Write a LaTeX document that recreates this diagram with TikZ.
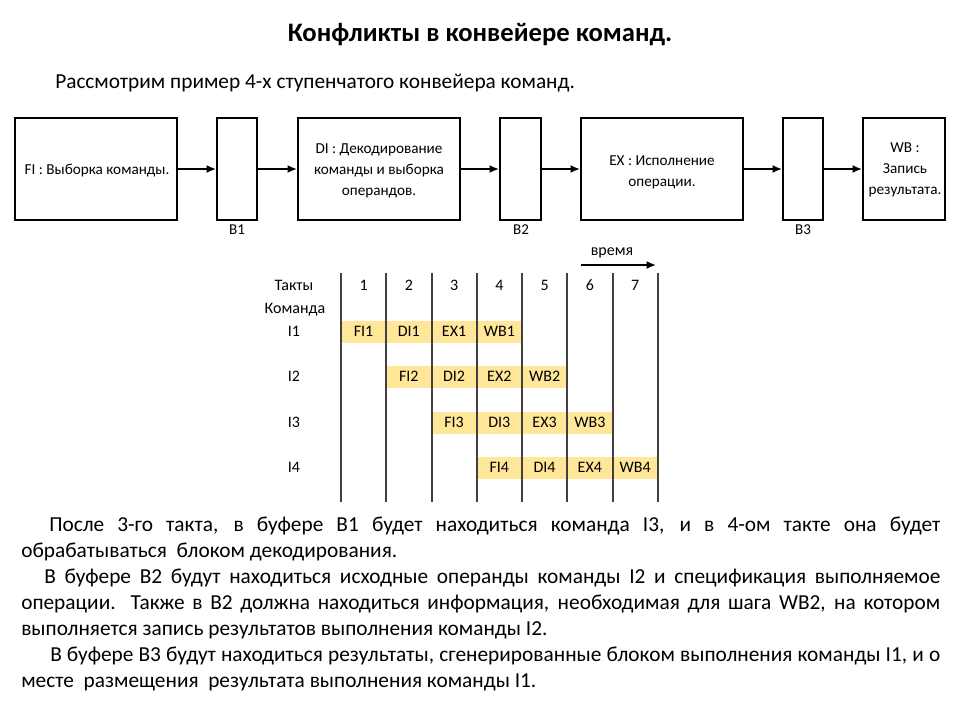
\documentclass[tikz,border=0pt]{standalone}
\usepackage{fontspec}
\setmainfont{Carlito}
\usetikzlibrary{arrows.meta}
\newdimen\pxu \pxu=0.75pt
\definecolor{cellyellow}{HTML}{FFE699}
\definecolor{gridgray}{HTML}{404040}
\tikzset{
  blk/.style={draw=black, line width=1.5pt, minimum height=102\pxu, inner sep=0pt},
  blktext/.style={inner sep=0pt, align=center, font=\fontsize{11.4}{15.8}\selectfont},
  buf/.style={draw=black, line width=1.5pt, minimum height=102\pxu, minimum width=40\pxu, inner sep=0pt},
  flow/.style={line width=1.5pt, -{Latex[length=7pt,width=6pt]}},
  tbl/.style={font=\fontsize{12}{14}\selectfont, inner sep=0pt, text height=8.5pt, text depth=2.5pt},
  cell/.style={fill=cellyellow, minimum width=45\pxu, minimum height=22\pxu, inner sep=0pt, text height=8.5pt, text depth=2.5pt, font=\fontsize{12}{14}\selectfont},
  vline/.style={draw=gridgray, line width=1pt},
  para/.style={anchor=base west, inner sep=0pt, font=\fontsize{16}{19}\selectfont},
}
\begin{document}
\begin{tikzpicture}[x=0.75pt, y=-0.75pt]
\useasboundingbox (0,0) rectangle (960,720);
% title
\node[font=\bfseries\fontsize{20}{24}\selectfont] (title) at (480,35) {Конфликты в конвейере команд.};
\node[anchor=base west, inner sep=0pt, font=\fontsize{16}{19}\selectfont] (sub) at (55,89) {Рассмотрим пример 4-х ступенчатого конвейера команд.};
% pipeline blocks
\node[blk, minimum width=162\pxu] (fi) at (96,169) {};
\node[buf] (b1) at (237,169) {};
\node[blk, minimum width=162\pxu] (di) at (379,169) {};
\node[buf, minimum width=41\pxu] (b2) at (520.5,169) {};
\node[blk, minimum width=162\pxu] (ex) at (662,169) {};
\node[buf] (b3) at (803,169) {};
\node[blk, minimum width=82\pxu] (wb) at (904,169) {};
\node[blktext] (fit) at (97,171) {FI : Выборка команды.};
\node[blktext] (dit) at (379,171) {DI : Декодирование\\команды и выборка\\операндов.};
\node[blktext] (ext) at (662,172) {EX : Исполнение\\операции.};
\node[blktext] (wbt) at (905,170) {WB :\\Запись\\результата.};
\draw[flow] (fi) -- (b1);
\draw[flow] (b1) -- (di);
\draw[flow] (di) -- (b2);
\draw[flow] (b2) -- (ex);
\draw[flow] (ex) -- (b3);
\draw[flow] (b3) -- (wb);
\node[tbl, font=\fontsize{11.3}{13}\selectfont] (lb1) at (237,231) {B1};
\node[tbl, font=\fontsize{11.3}{13}\selectfont] (lb2) at (521,231) {B2};
\node[tbl, font=\fontsize{11.3}{13}\selectfont] (lb3) at (803,231) {B3};
% time arrow
\node[tbl] (time) at (612,252) {время};
\coordinate (t0) at (581,265);
\coordinate (t1) at (656,265);
\draw[line width=1.3pt, -{Latex[length=7pt,width=6pt]}] (t0) -- (t1);
% yellow cells
\foreach \r/\y/\s in {1/332/1, 2/377/2, 3/423/3, 4/468/4}{
  \foreach \k/\st in {0/FI, 1/DI, 2/EX, 3/WB}{
    \pgfmathtruncatemacro{\c}{\s+\k}
    \pgfmathsetmacro{\cx}{341+45.25*(\c-1)+22.6}
    \node[cell] (c\r\k) at (\cx,\y) {\st\r};
  }
}
% grid lines
\foreach \x in {341,386,432,477,522,567,613,658}{
  \draw[vline] (\x,273) -- (\x,502);
}
% header
\node[tbl] (takty) at (294,287) {Такты};
\node[tbl] (komanda) at (295,310) {Команда};
\foreach \c in {1,...,7}{
  \pgfmathsetmacro{\cx}{341+45.25*(\c-1)+22.6}
  \node[tbl] (h\c) at (\cx,287) {\c};
}
\foreach \r/\y in {1/332, 2/377, 3/423, 4/468}{
  \node[tbl] (i\r) at (294,\y) {I\r};
}
% paragraphs
\node[para] (p1) at (49,531) {\makebox[891\pxu][s]{После 3-го такта, в буфере В1 будет находиться команда I3, и в 4-ом такте она будет}};
\node[para] (p2) at (21,557) {обрабатываться\ \ блоком декодирования.};
\node[para] (p3) at (44,583) {\makebox[896\pxu][s]{В буфере В2 будут находиться исходные операнды команды I2 и спецификация выполняемое}};
\node[para] (p4) at (21,609) {\makebox[919\pxu][s]{операции. Также в В2 должна находиться информация, необходимая для шага WB2, на котором}};
\node[para] (p5) at (21,635) {выполняется запись результатов выполнения команды I2.};
\node[para] (p6) at (50,661) {\makebox[890\pxu][s]{В буфере В3 будут находиться результаты, сгенерированные блоком выполнения команды I1, и о}};
\node[para] (p7) at (21,687) {месте\ \ размещения\ \ результата выполнения команды I1.};
\end{tikzpicture}
\end{document}
